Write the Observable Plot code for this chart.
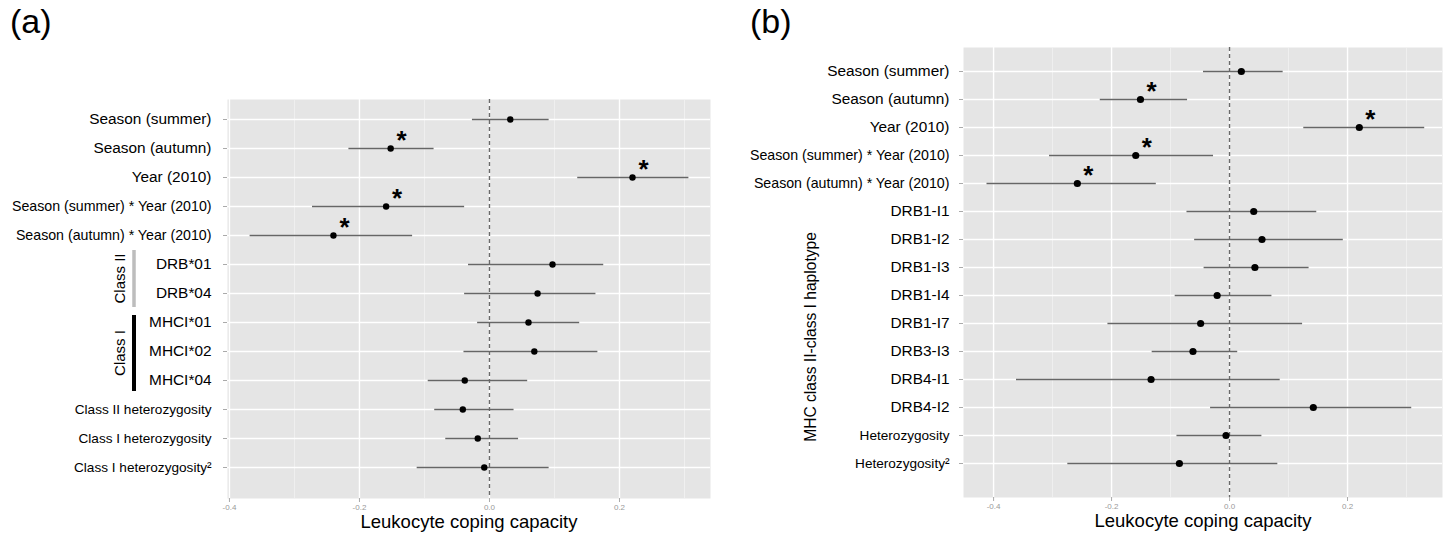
<!DOCTYPE html>
<html><head><meta charset="utf-8">
<script src="https://cdn.jsdelivr.net/npm/d3@7"></script>
<script src="https://cdn.jsdelivr.net/npm/@observablehq/plot@0.6"></script>
<style>
body{margin:0;background:#fff;font-family:"Liberation Sans",Arial,sans-serif;}
#wrap{position:relative;width:1448px;height:542px;overflow:hidden;background:#fff}
.panel{position:absolute;top:0}
.tag{position:absolute;font-size:34px;line-height:1;top:4px;color:#000}
</style></head><body>
<div id="wrap">
 <div class="tag" style="left:10px">(a)</div>
 <div class="tag" style="left:750px">(b)</div>
 <div id="pa" class="panel" style="left:0"></div>
 <div id="pb" class="panel" style="left:724px"></div>
</div>
<script>
// ---------- Panel (a) data ----------
const termsA = ["Season (summer)", "Season (autumn)", "Year (2010)", "Season (summer) * Year (2010)",
  "Season (autumn) * Year (2010)", "DRB*01", "DRB*04", "MHCI*01", "MHCI*02", "MHCI*04",
  "Class II heterozygosity", "Class I heterozygosity", "Class I heterozygosity\u00B2"];
const estA  = [0.032, -0.152, 0.220, -0.159, -0.240, 0.097, 0.074, 0.060, 0.069, -0.038, -0.041, -0.018, -0.008];
const lowA  = [-0.027, -0.217, 0.135, -0.273, -0.369, -0.033, -0.039, -0.019, -0.040, -0.095, -0.085, -0.068, -0.112];
const highA = [0.091, -0.086, 0.306, -0.039, -0.119, 0.175, 0.163, 0.138, 0.166, 0.058, 0.037, 0.044, 0.091];
const sigA  = ["Season (autumn)", "Year (2010)", "Season (summer) * Year (2010)", "Season (autumn) * Year (2010)"];
const groupsA = [
  {label: "Class II", from: "DRB*01", to: "DRB*04"},
  {label: "Class I", from: "MHCI*01", to: "MHCI*04"}
];

// ---------- Panel (b) data ----------
const termsB = ["Season (summer)", "Season (autumn)", "Year (2010)", "Season (summer) * Year (2010)",
  "Season (autumn) * Year (2010)", "DRB1-I1", "DRB1-I2", "DRB1-I3", "DRB1-I4", "DRB1-I7",
  "DRB3-I3", "DRB4-I1", "DRB4-I2", "Heterozygosity", "Heterozygosity\u00B2"];
const estB  = [0.020, -0.151, 0.220, -0.159, -0.258, 0.041, 0.055, 0.043, -0.021, -0.049, -0.062, -0.133, 0.142, -0.006, -0.085];
const lowB  = [-0.045, -0.220, 0.125, -0.306, -0.412, -0.073, -0.060, -0.044, -0.093, -0.207, -0.132, -0.362, -0.033, -0.090, -0.275];
const highB = [0.090, -0.072, 0.330, -0.028, -0.125, 0.147, 0.192, 0.134, 0.071, 0.123, 0.013, 0.085, 0.308, 0.054, 0.081];
const sigB  = ["Season (autumn)", "Year (2010)", "Season (summer) * Year (2010)", "Season (autumn) * Year (2010)"];
const yTitleB = "MHC class II-class I haplotype";
const yTitleRangeB = ["DRB1-I1", "Heterozygosity\u00B2"];

// ---------- shared ----------
const majorTicks = [-0.4, -0.2, 0.0, 0.2];
const minorTicks = [-0.3, -0.1, 0.1, 0.3];
const xLabel = "Leukocyte coping capacity";

function labelSize(t) {
  if (/\* Year/.test(t)) return 14.2;
  if (/eterozygosity/.test(t)) return 13.6;
  return 15.4;
}

function panel(o) {
  const rows = o.terms.map((t, i) => ({term: t, est: o.est[i], low: o.low[i], high: o.high[i]}));
  const sigRows = rows.filter(d => o.sig.includes(d.term));
  const extra = [];
  if (o.groups) {
    extra.push((index, scales, values, dim) => {
      const g = d3.create("svg:g");
      const y = scales.y;
      const x0 = dim.marginLeft - 93;
      o.groups.forEach((gr, i) => {
        const y1 = y(gr.from), y2 = y(gr.to);
        const top = i === 0 ? y1 - 14 : y1 - 7;
        const bot = i === 0 ? y2 + 14 : y2 + 11;
        g.append("line").attr("x1", x0).attr("x2", x0).attr("y1", top).attr("y2", bot)
          .attr("stroke", i === 0 ? "#bdbdbd" : "#000").attr("stroke-width", i === 0 ? 3.5 : 4);
        g.append("text").attr("transform", `translate(${x0 - 14},${(top + bot) / 2}) rotate(-90)`)
          .attr("text-anchor", "middle").attr("dy", "0.35em").attr("font-size", 15)
          .attr("fill", "#000").text(gr.label);
      });
      return g.node();
    });
  }
  if (o.yTitle) {
    extra.push((index, scales, values, dim) => {
      const y = scales.y;
      const cy = (y(o.yTitleRange[0]) + y(o.yTitleRange[1])) / 2;
      const g = d3.create("svg:g");
      g.append("text").attr("transform", `translate(${dim.marginLeft - 152},${cy}) rotate(-90)`)
        .attr("text-anchor", "middle").attr("dy", "0.35em").attr("font-size", 15.6)
        .attr("fill", "#000").text(o.yTitle);
      return g.node();
    });
  }
  return Plot.plot({
    width: o.width, height: 542,
    marginLeft: o.marginLeft, marginRight: o.marginRight,
    marginTop: o.marginTop, marginBottom: o.marginBottom,
    style: {background: "transparent", fontFamily: "'Liberation Sans', Arial, sans-serif", color: "#000"},
    x: {domain: o.xDomain},
    y: {type: "point", domain: o.terms, padding: 0, insetTop: o.insetTop, insetBottom: o.insetBottom, axis: null},
    marks: [
      Plot.frame({fill: "#e5e5e5", stroke: null}),
      Plot.gridX(minorTicks, {stroke: "#f2f2f2", strokeOpacity: 1, strokeWidth: 0.8}),
      Plot.gridX(majorTicks, {stroke: "#ffffff", strokeOpacity: 1, strokeWidth: 1.4}),
      Plot.gridY(o.terms, {stroke: "#ffffff", strokeOpacity: 1, strokeWidth: 1.4}),
      Plot.ruleX([0], {stroke: "#6a6a6a", strokeDasharray: "4,3", strokeWidth: 1.4}),
      Plot.link(rows, {x1: "low", x2: "high", y1: "term", y2: "term", stroke: "#666", strokeWidth: 1.5}),
      Plot.dot(rows, {x: "est", y: "term", r: o.r, fill: "#000", stroke: null}),
      Plot.text(sigRows, {x: "est", y: "term", text: () => "*", dx: 11, dy: -8, fontSize: 26, fontWeight: "bold", fill: "#000"}),
      Plot.axisX(majorTicks, {tickSize: 4, stroke: "#aaa", fill: "#999", fontSize: 8, tickPadding: 2,
        tickFormat: d => d.toFixed(1), label: null}),
      Plot.axisY(o.terms, {tickSize: 4, stroke: "#aaa", tickFormat: () => "", label: null}),
      Plot.text(rows, {y: "term", text: "term", frameAnchor: "left", textAnchor: "end", dx: o.labelDx,
        fontSize: d => labelSize(d.term), fill: "#000"}),
      Plot.text([xLabel], {frameAnchor: "bottom", lineAnchor: "middle", dy: o.xLabelDy, fontSize: 18.5, fill: "#000"}),
      ...extra
    ]
  });
}

document.getElementById("pa").append(panel({
  terms: termsA, est: estA, low: lowA, high: highA, sig: sigA, groups: groupsA, r: 3.2,
  width: 712, marginLeft: 227, marginRight: 2, marginTop: 99, marginBottom: 44,
  insetTop: 18, insetBottom: 29, xDomain: [-0.403, 0.340], labelDx: -16, xLabelDy: 24
}));
document.getElementById("pb").append(panel({
  terms: termsB, est: estB, low: lowB, high: highB, sig: sigB, r: 3.6,
  yTitle: yTitleB, yTitleRange: yTitleRangeB,
  width: 724, marginLeft: 239, marginRight: 6, marginTop: 47, marginBottom: 45,
  insetTop: 17, insetBottom: 28, xDomain: [-0.451, 0.361], labelDx: -14, xLabelDy: 24
}));
</script>
</body></html>
